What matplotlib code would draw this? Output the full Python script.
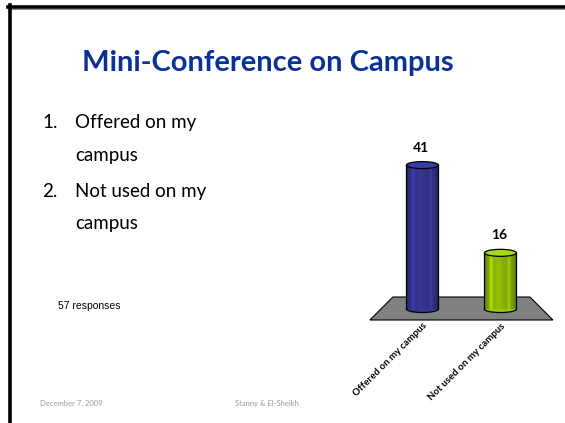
import numpy as np
import matplotlib
matplotlib.use("Agg")
import matplotlib.pyplot as plt
from matplotlib.patches import Ellipse, Polygon
from matplotlib.lines import Line2D

# data
categories = ["Offered on my campus", "Not used on my campus"]
responses = [41, 16]
n_responses = 57
bar_colors = ["#34349c", "#99cc00"]
top_colors = ["#3a3aa8", "#a6d816"]

title = "Mini-Conference on Campus"
items = [("1.", "Offered on my", "campus"), ("2.", "Not used on my", "campus")]
footer_date = "December 7, 2009"
footer_authors = "Stanny & El-Sheikh"

W, H = 565, 423
plt.rcParams["font.family"] = ["Lato", "DejaVu Sans"]


def fx(px):
    return px / W


def fy(py):
    return 1 - py / H


def draw_cylinder(ax, x, h, w, color, top_color):
    rgb = np.array(matplotlib.colors.to_rgb(color))
    t = np.linspace(0, 1, 120)
    prof = (0.78 + 0.30 * np.exp(-((t - 0.22) / 0.05) ** 2)
            + 0.22 * np.exp(-((t - 0.78) / 0.04) ** 2)
            + 0.12 * np.exp(-((t - 0.45) / 0.15) ** 2)
            - 0.25 * (np.abs(t - 0.5) * 2) ** 6)
    img = np.clip(rgb[None, :] * prof[:, None] + 0.03, 0, 1)[None, :, :]
    bar = ax.bar(x, h, w, color=color, linewidth=0, zorder=3)[0]
    im = ax.imshow(img, extent=[x - w / 2, x + w / 2, 0, h], aspect="auto",
                   zorder=4, interpolation="bilinear")
    im.set_clip_path(bar)
    eh = 2.0
    ax.add_patch(Ellipse((x, 0), w, eh, facecolor=color, edgecolor="black",
                         linewidth=0.9, zorder=2.5))
    ax.plot([x - w / 2, x - w / 2], [0, h], color="black", lw=0.9, zorder=5)
    ax.plot([x + w / 2, x + w / 2], [0, h], color="black", lw=0.9, zorder=5)
    ax.add_patch(Ellipse((x, h), w, eh, facecolor=top_color, edgecolor="black",
                         linewidth=0.9, zorder=6))


fig = plt.figure(figsize=(W / 100, H / 100), dpi=100)
fig.patch.set_facecolor("white")

# slide border
fig.add_artist(Line2D([fx(8), 1], [fy(7), fy(7)], color="black", lw=2.6))
fig.add_artist(Line2D([fx(9), 1], [fy(9.5), fy(9.5)], color="#888888", lw=0.7))
fig.add_artist(Line2D([fx(9.5), fx(9.5)], [fy(5.5), 0], color="black", lw=2.6))

fig.text(fx(268), fy(63), title, ha="center", va="center", fontsize=21,
         fontweight="bold", color="#0a3296")

baselines = [128, 161, 197, 229]
for i, (num, line1, line2) in enumerate(items):
    fig.text(fx(42), fy(baselines[2 * i]), num, ha="left", va="baseline",
             fontsize=13.5, color="black")
    fig.text(fx(75), fy(baselines[2 * i]), line1, ha="left", va="baseline",
             fontsize=13.5, color="black")
    fig.text(fx(75), fy(baselines[2 * i + 1]), line2, ha="left", va="baseline",
             fontsize=13.5, color="black")

fig.text(fx(58), fy(306), f"{n_responses} responses", ha="left", va="center",
         fontsize=7.5, family="Liberation Sans", color="black")

fig.text(fx(40), fy(403), footer_date, ha="left", va="center", fontsize=5.5,
         color="#999999")
fig.text(fx(235), fy(403), footer_authors, ha="left", va="center", fontsize=5.5,
         color="#999999")

# chart axes: px x 360..560, y 130..330
ax = fig.add_axes([fx(360), fy(330), 200 / W, 200 / H])
ax.set_axis_off()
x = np.arange(len(categories))
w = 0.41

floor = Polygon([[-0.378, 3.42], [1.378, 3.42], [1.673, -3.13], [-0.673, -3.13]],
                closed=True, facecolor="#808080", edgecolor="black", lw=0.8, zorder=1)
ax.add_patch(floor)

for xi, v, c, tc in zip(x, responses, bar_colors, top_colors):
    draw_cylinder(ax, xi, v, w, c, tc)
    ax.text(xi - 0.02, v + 3.3, str(v), ha="center", va="bottom", fontsize=10,
            fontweight="bold", color="black")

ax.set_xlim(-0.80, 1.763)
ax.set_ylim(-5.98, 51.0)

for xi, lab in zip(x, categories):
    ax.annotate(lab, xy=(xi, -3.13), xycoords="data", xytext=(0, -1),
                textcoords="offset points", rotation=45, rotation_mode="anchor",
                ha="right", va="top", fontsize=7.0, fontweight="bold",
                color="black", annotation_clip=False)

fig.savefig("out.png", dpi=100)
